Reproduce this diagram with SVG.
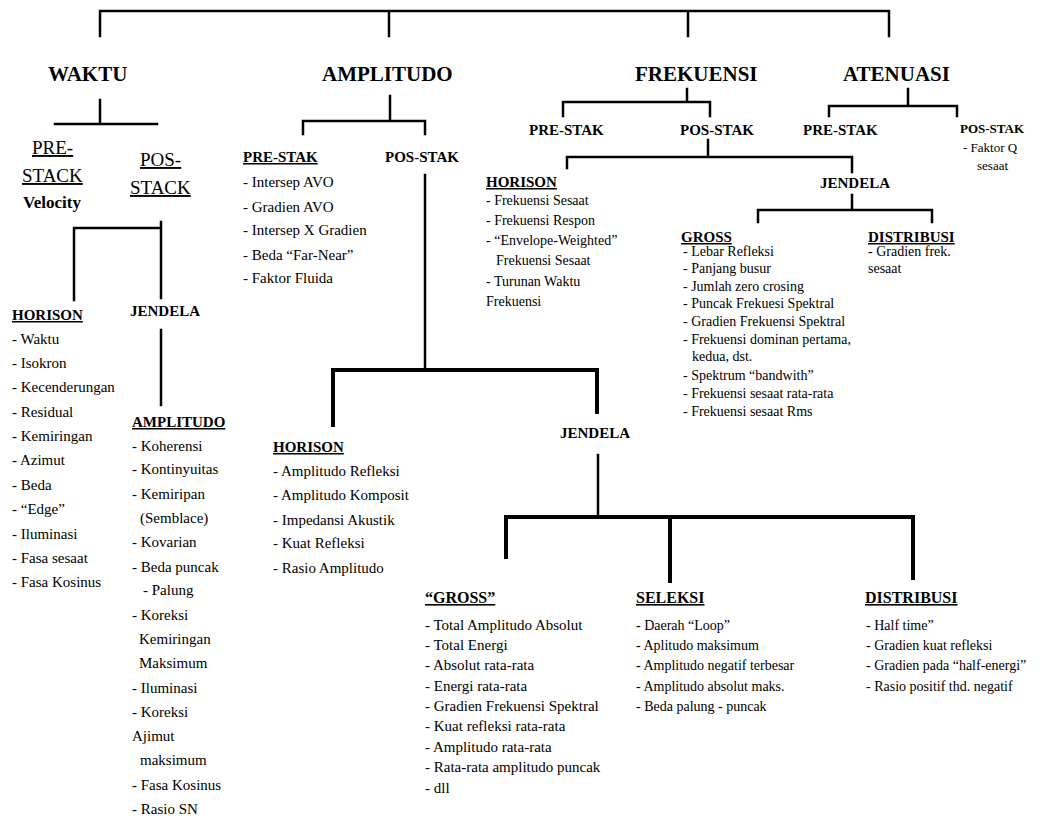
<svg xmlns="http://www.w3.org/2000/svg" width="1048" height="828" viewBox="0 0 1048 828" font-family="'Liberation Serif', 'DejaVu Serif', serif">
<style>
text{fill:#000}
.t{font-size:21px;font-weight:bold}
.h{font-size:15px;font-weight:bold}
.h16{font-size:16px;font-weight:bold}
.u{text-decoration:underline}
.i{font-size:15px}
.s{font-size:14px}
.big{font-size:19px}
.ln{stroke:#000;stroke-width:2.5;fill:none;stroke-linecap:square}
.th{stroke:#000;stroke-width:4;fill:none;stroke-linecap:square}
</style>
<rect width="1048" height="828" fill="#fff"/>
<g id="connectors">
<path class="ln" d="M100 36V11H889V36M389 11V36M688 11V36"/>
<path class="ln" d="M100 100V124M55 124H157"/>
<path class="ln" d="M74 300V228H161M161 222V298M161 330V405"/>
<path class="ln" d="M390 96V121M303 134V121H425V134"/>
<path class="ln" d="M425 175V370"/>
<path class="th" d="M333 425V370H597V412"/>
<path class="ln" d="M598 455V517"/>
<path class="th" d="M506 557V517H913V578M670 517V581"/>
<path class="ln" d="M687 89V102M563 116V102H710V116"/>
<path class="ln" d="M708 140V157M567 168V157H852V172"/>
<path class="ln" d="M852 195V210M758 222V210H932V222"/>
<path class="ln" d="M908 89V106M829 116V106H957V116"/>
</g>
<g id="waktu"><text class="t" x="48" y="81">WAKTU</text></g>
<g id="amplitudo"><text class="t" x="322" y="81">AMPLITUDO</text></g>
<g id="frekuensi"><text class="t" x="635" y="81">FREKUENSI</text></g>
<g id="atenuasi"><text class="t" x="843" y="81">ATENUASI</text></g>
<g id="waktu-prestack">
<text class="big u" x="32" y="154">PRE-</text>
<text class="big u" x="22" y="182">STACK</text>
<text x="23" y="208" style="font-size:17px;font-weight:bold">Velocity</text>
</g>
<g id="waktu-posstack">
<text class="big u" x="140" y="166">POS-</text>
<text class="big u" x="130" y="194">STACK</text>
</g>
<g id="waktu-horison">
<text class="h u" x="12" y="320">HORISON</text>
<text class="i" x="12" y="344">- Waktu</text>
<text class="i" x="12" y="368">- Isokron</text>
<text class="i" x="12" y="392">- Kecenderungan</text>
<text class="i" x="12" y="417">- Residual</text>
<text class="i" x="12" y="441">- Kemiringan</text>
<text class="i" x="12" y="465">- Azimut</text>
<text class="i" x="12" y="490">- Beda</text>
<text class="i" x="12" y="514">- “Edge”</text>
<text class="i" x="12" y="539">- Iluminasi</text>
<text class="i" x="12" y="563">- Fasa sesaat</text>
<text class="i" x="12" y="587">- Fasa Kosinus</text>
</g>
<g id="waktu-jendela"><text class="h" x="130" y="316">JENDELA</text></g>
<g id="waktu-amplitudo">
<text class="h u" x="132" y="427">AMPLITUDO</text>
<text class="i" x="132" y="451">- Koherensi</text>
<text class="i" x="132" y="474">- Kontinyuitas</text>
<text class="i" x="132" y="499">- Kemiripan</text>
<text class="i" x="140" y="523">(Semblace)</text>
<text class="i" x="132" y="547">- Kovarian</text>
<text class="i" x="132" y="572">- Beda puncak</text>
<text class="i" x="143" y="595">- Palung</text>
<text class="i" x="132" y="620">- Koreksi</text>
<text class="i" x="139" y="644">Kemiringan</text>
<text class="i" x="139" y="668">Maksimum</text>
<text class="i" x="132" y="693">- Iluminasi</text>
<text class="i" x="132" y="717">- Koreksi</text>
<text class="i" x="132" y="741">Ajimut</text>
<text class="i" x="140" y="765">maksimum</text>
<text class="i" x="132" y="790">- Fasa Kosinus</text>
<text class="i" x="132" y="814">- Rasio SN</text>
</g>
<g id="amp-prestak">
<text class="h u" x="243" y="162">PRE-STAK</text>
<text class="i" x="243" y="187">- Intersep AVO</text>
<text class="i" x="243" y="212">- Gradien AVO</text>
<text class="i" x="243" y="235">- Intersep X Gradien</text>
<text class="i" x="243" y="260">- Beda “Far-Near”</text>
<text class="i" x="243" y="283">- Faktor Fluida</text>
</g>
<g id="amp-posstak"><text class="h" x="385" y="162">POS-STAK</text></g>
<g id="amp-horison">
<text class="h u" x="273" y="452">HORISON</text>
<text class="i" x="273" y="476">- Amplitudo Refleksi</text>
<text class="i" x="273" y="500">- Amplitudo Komposit</text>
<text class="i" x="273" y="525">- Impedansi Akustik</text>
<text class="i" x="273" y="548">- Kuat Refleksi</text>
<text class="i" x="273" y="573">- Rasio Amplitudo</text>
</g>
<g id="amp-jendela"><text class="h" x="560" y="438">JENDELA</text></g>
<g id="amp-gross">
<text class="h16 u" x="425" y="603">“GROSS”</text>
<text class="i" x="425" y="630">- Total Amplitudo Absolut</text>
<text class="i" x="425" y="650">- Total Energi</text>
<text class="i" x="425" y="670">- Absolut rata-rata</text>
<text class="i" x="425" y="691">- Energi rata-rata</text>
<text class="i" x="425" y="711">- Gradien Frekuensi  Spektral</text>
<text class="i" x="425" y="731">- Kuat refleksi rata-rata</text>
<text class="i" x="425" y="752">- Amplitudo rata-rata</text>
<text class="i" x="425" y="772">- Rata-rata amplitudo puncak</text>
<text class="i" x="425" y="793">- dll</text>
</g>
<g id="amp-seleksi">
<text class="h16 u" x="636" y="603">SELEKSI</text>
<text class="s" x="636" y="630">- Daerah “Loop”</text>
<text class="s" x="636" y="650">- Aplitudo maksimum</text>
<text class="s" x="636" y="670">- Amplitudo negatif terbesar</text>
<text class="s" x="636" y="691">- Amplitudo absolut maks.</text>
<text class="s" x="636" y="711">- Beda palung - puncak</text>
</g>
<g id="amp-distribusi">
<text class="h16 u" x="865" y="603">DISTRIBUSI</text>
<text class="s" x="866" y="630">- Half time”</text>
<text class="s" x="866" y="650">- Gradien kuat refleksi</text>
<text class="s" x="866" y="670">- Gradien pada “half-energi”</text>
<text class="s" x="866" y="691">- Rasio positif thd. negatif</text>
</g>
<g id="frek-prestak"><text class="h" x="529" y="135">PRE-STAK</text></g>
<g id="frek-posstak"><text class="h" x="680" y="135">POS-STAK</text></g>
<g id="frek-horison">
<text class="h u" x="486" y="187">HORISON</text>
<text class="s" x="486" y="205">- Frekuensi Sesaat</text>
<text class="s" x="486" y="225">- Frekuensi Respon</text>
<text class="s" x="486" y="245">- “Envelope-Weighted”</text>
<text class="s" x="496" y="265">Frekuensi Sesaat</text>
<text class="s" x="486" y="286">- Turunan Waktu</text>
<text class="s" x="486" y="306">Frekuensi</text>
</g>
<g id="frek-jendela"><text class="h" x="820" y="188">JENDELA</text></g>
<g id="frek-gross">
<text class="h u" x="681" y="242">GROSS</text>
<text class="s" x="683" y="256">- Lebar Refleksi</text>
<text class="s" x="683" y="273">- Panjang busur</text>
<text class="s" x="683" y="291">- Jumlah zero crosing</text>
<text class="s" x="683" y="308">- Puncak Frekuesi Spektral</text>
<text class="s" x="683" y="326">- Gradien Frekuensi Spektral</text>
<text class="s" x="683" y="344">- Frekuensi dominan pertama,</text>
<text class="s" x="692" y="361">kedua, dst.</text>
<text class="s" x="683" y="380">- Spektrum “bandwith”</text>
<text class="s" x="683" y="398">- Frekuensi sesaat rata-rata</text>
<text class="s" x="683" y="416">- Frekuensi sesaat Rms</text>
</g>
<g id="frek-distribusi">
<text class="h u" x="868" y="242">DISTRIBUSI</text>
<text class="s" x="868" y="256">- Gradien frek.</text>
<text class="s" x="868" y="273">sesaat</text>
</g>
<g id="aten-prestak"><text class="h" x="803" y="135">PRE-STAK</text></g>
<g id="aten-posstak">
<text class="h" x="960" y="133" style="font-size:13px">POS-STAK</text>
<text x="963" y="152" style="font-size:13px">- Faktor Q</text>
<text x="977" y="170" style="font-size:13px">sesaat</text>
</g>
</svg>
